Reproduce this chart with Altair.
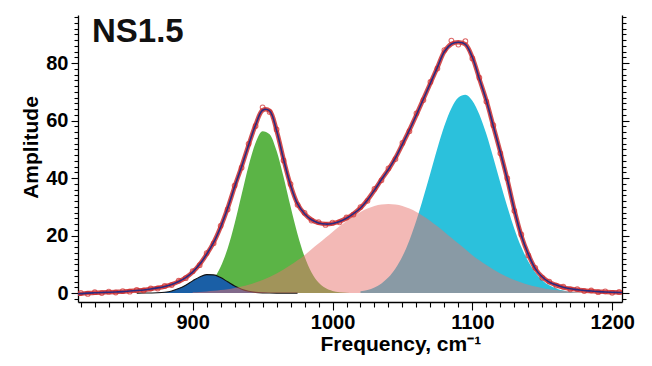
import altair as alt
import pandas as pd

# ---------------- data ----------------
TITLE = "NS1.5"
X_TITLE = "Frequency, cm\u207b\u00b9"
Y_TITLE = "Amplitude"
X_MAJOR = [900, 1000, 1100, 1200]
Y_MAJOR = [0, 20, 40, 60, 80]

FREQ = list(range(815, 1211, 5))
FIT = [-0.3, -0.2, 0.0, 0.1, 0.2, 0.3, 0.4, 0.5, 0.7, 0.9,
       1.1, 1.4, 1.8, 2.3, 3.0, 4.0, 5.4, 7.3, 10.0, 13.5,
       17.6, 23.0, 29.5, 37.0, 44.0, 51.5, 58.5, 63.6, 63.4, 56.5,
       46.5, 37.5, 31.0, 27.6, 25.5, 24.4, 24.0, 24.2, 24.9, 26.0,
       27.6, 29.6, 32.4, 35.8, 39.5, 43.0, 47.0, 51.8, 56.7, 62.0,
       67.5, 73.0, 78.5, 84.0, 86.6, 87.2, 86.5, 82.0, 74.5, 67.0,
       58.0, 49.0, 39.5, 29.0, 20.0, 13.5, 8.5, 5.6, 3.8, 2.8,
       2.0, 1.5, 1.2, 0.9, 0.7, 0.5, 0.4, 0.3, 0.2, 0.2]
MEASURED = [-0.6, 0.1, -0.3, 0.3, 0.0, 0.5, 0.2, 0.7, 0.5, 1.1,
            0.9, 1.6, 1.6, 2.5, 2.8, 4.3, 5.2, 7.6, 9.7, 13.9,
            17.3, 23.4, 29.1, 37.4, 43.6, 51.9, 58.1, 64.6, 63.0, 56.9,
            46.1, 37.9, 30.7, 27.9, 25.2, 24.7, 23.7, 24.5, 24.6, 26.3,
            27.3, 29.9, 32.1, 36.2, 39.2, 43.4, 46.6, 52.2, 56.3, 62.5,
            67.1, 73.4, 78.1, 84.5, 87.8, 86.4, 87.6, 81.6, 74.9, 66.6,
            58.4, 48.6, 39.9, 28.6, 20.4, 13.1, 8.8, 5.3, 4.0, 2.6,
            2.2, 1.3, 1.4, 0.7, 0.9, 0.3, 0.6, 0.1, 0.4, 0.0]

BLUE_FREQ = list(range(860, 980, 5))
BLUE = [0.0, 0.01, 0.04, 0.11, 0.31, 0.75, 1.56, 2.76, 4.25, 5.62,
        6.42, 6.33, 5.38, 3.94, 2.49, 1.36, 0.64, 0.26, 0.09, 0.03,
        0.0, 0.0, 0.0, 0.0]

GREEN_FREQ = list(range(895, 1020, 5))
GREEN = [0.16, 0.43, 1.07, 2.39, 4.89, 9.14, 15.5, 24.2, 34.3, 44.3,
         52.3, 56.3, 55.2, 49.5, 40.4, 30.1, 20.5, 12.7, 7.2, 3.7,
         1.75, 0.75, 0.29, 0.1, 0.03]

PINK_FREQ = list(range(900, 1185, 5))
PINK = [0.30, 0.42, 0.57, 0.77, 1.03, 1.36, 1.78, 2.29, 2.92, 3.67,
        4.57, 5.62, 6.83, 8.21, 9.74, 11.4, 13.2, 15.2, 17.2, 19.2,
        21.2, 23.2, 25.1, 26.7, 28.2, 29.4, 30.3, 30.8, 31.0, 30.8,
        30.3, 29.4, 28.2, 26.7, 25.1, 23.2, 21.2, 19.2, 17.2, 15.2,
        13.2, 11.4, 9.74, 8.21, 6.83, 5.62, 4.57, 3.67, 2.92, 2.29,
        1.78, 1.36, 1.03, 0.77, 0.57, 0.42, 0.30]

CYAN_FREQ = list(range(1020, 1185, 5))
CYAN = [0.6, 1.11, 1.97, 3.36, 5.49, 8.58, 12.8, 18.4, 25.3, 33.3,
        41.8, 50.4, 58.2, 64.3, 68.0, 69.0, 66.9, 62.1, 55.3, 47.1,
        38.4, 30.0, 22.4, 16.0, 11.0, 7.2, 4.5, 2.7, 1.6, 0.87,
        0.46, 0.23, 0.11]

# ---------------- tables ----------------
fit_df = pd.DataFrame({"freq": FREQ, "amp": FIT, "meas": MEASURED})
blue_df = pd.DataFrame({"freq": BLUE_FREQ, "amp": BLUE})
green_df = pd.DataFrame({"freq": GREEN_FREQ, "amp": GREEN})
pink_df = pd.DataFrame({"freq": PINK_FREQ, "amp": PINK})
cyan_df = pd.DataFrame({"freq": CYAN_FREQ, "amp": CYAN})
title_df = pd.DataFrame({"label": [TITLE]})

FONT = "Liberation Sans"
xs = alt.Scale(domain=[818, 1207], nice=False, zero=False)
ys = alt.Scale(domain=[-3.1, 96.7], nice=False, zero=False)

x_major_test = " || ".join(f"datum.value === {v}" for v in X_MAJOR)
y_major_test = " || ".join(f"datum.value === {v}" for v in Y_MAJOR)

x_axis = alt.Axis(
    values=list(range(820, 1201, 10)),
    format="d",
    labelExpr=f"({x_major_test}) ? datum.label : ''",
    tickSize={"condition": {"test": x_major_test, "value": 8}, "value": 5},
    labelOverlap=False, labelFlush=False, grid=False,
    labelFont=FONT, labelFontSize=20, labelFontWeight="bold", labelColor="black",
    labelPadding=2,
    domainColor="black", domainWidth=1.3, tickColor="black", tickWidth=1.1,
    title=X_TITLE, titleFont=FONT, titleFontSize=21, titleFontWeight="bold",
    titleColor="black", titleX=242, titleY=48, titleAlign="left",
    titleBaseline="alphabetic", titleAnchor="start",
)

y_axis_left = alt.Axis(
    orient="left",
    values=list(range(-2, 97, 2)),
    labelExpr=f"({y_major_test}) ? datum.label : ''",
    tickSize={"condition": {"test": y_major_test, "value": 7}, "value": 4},
    labelOverlap=False, labelFlush=False, grid=False,
    labelFont=FONT, labelFontSize=20, labelFontWeight="bold", labelColor="black",
    labelPadding=3,
    domainColor="black", domainWidth=1.3, tickColor="black", tickWidth=1.1,
    title=Y_TITLE, titleFont=FONT, titleFontSize=21, titleFontWeight="bold",
    titleColor="black", titleX=-41, titleY=132, titleAngle=-90,
    titleAlign="center", titleBaseline="alphabetic",
)

y_axis_right = alt.Axis(
    orient="right",
    values=list(range(-2, 97, 2)),
    labels=False,
    tickSize={"condition": {"test": y_major_test, "value": 7}, "value": 4},
    grid=False, title=None,
    domainColor="black", domainWidth=1.3, tickColor="black", tickWidth=1.1,
)

X = alt.X("freq:Q", scale=xs, axis=x_axis)
Y = alt.Y("amp:Q", scale=ys, axis=None)

green = alt.Chart(green_df).mark_area(
    color="#5bb446", interpolate="monotone", clip=True
).encode(x=X, y=alt.Y("amp:Q", scale=ys, axis=y_axis_left))

blue = alt.Chart(blue_df).mark_area(
    color="#1a5fa6", interpolate="monotone", clip=True
).encode(x=X, y=Y)

blue_line = alt.Chart(blue_df).mark_line(
    color="#111111", strokeWidth=1.1, interpolate="monotone", clip=True
).encode(x=X, y=Y)

cyan = alt.Chart(cyan_df).mark_area(
    color="#2bc1dc", interpolate="monotone", clip=True
).encode(x=X, y=alt.Y("amp:Q", scale=ys, axis=y_axis_right))

pink = alt.Chart(pink_df).mark_area(
    color="#e7736d", opacity=0.5, interpolate="monotone", clip=True
).encode(x=X, y=Y)

red_band = alt.Chart(fit_df).mark_line(
    color="#cf3a3a", strokeWidth=4.5, interpolate="catmull-rom", clip=True,
    opacity=0.9
).encode(x=X, y=Y)

red_pts = alt.Chart(fit_df).mark_point(
    shape="circle", filled=False, color="#d02a2a", size=22, strokeWidth=1.1,
    clip=True
).encode(x=X, y=alt.Y("meas:Q", scale=ys, axis=None))

fit_line = alt.Chart(fit_df).mark_line(
    color="#2a2a80", strokeWidth=1.6, interpolate="catmull-rom", clip=True
).encode(x=X, y=Y)

label = alt.Chart(title_df).mark_text(
    align="left", baseline="alphabetic", font=FONT, fontSize=33,
    fontWeight="bold", color="#111111"
).encode(x=alt.value(14), y=alt.value(27), text="label:N")

chart = alt.layer(
    green, blue, blue_line, cyan, pink, red_band, red_pts, fit_line, label
).resolve_axis(y="independent").properties(
    width=544, height=287,
    padding={"left": 78, "top": 15, "right": 30, "bottom": 64},
    autosize="none", background="white",
).configure_view(stroke=None)

chart.save("out.html", embed_options={"renderer": "svg", "actions": False})
